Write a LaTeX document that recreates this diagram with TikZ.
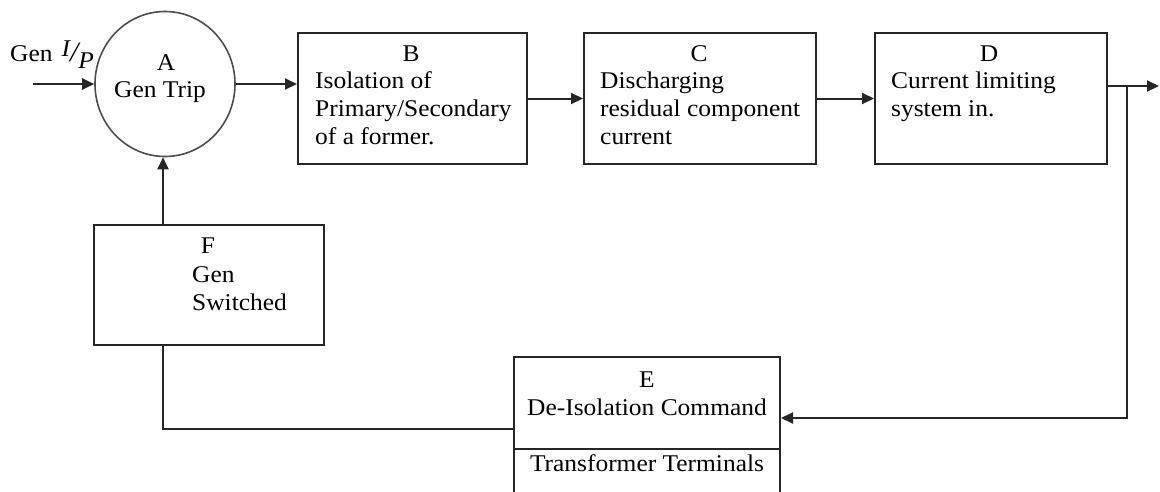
\documentclass[tikz,border=0pt]{standalone}
\usepackage{fontspec}
\setmainfont{Liberation Serif}[FakeStretch=1.06]
\usetikzlibrary{arrows.meta, calc, positioning, shapes.geometric}
\tikzset{
>={Triangle[length=12pt,width=11pt]}, % filled arrow heads
blk/.style={draw=black!85, line width=2pt, inner sep=0pt}, % outline of a block
lbl/.style={inner sep=0pt, align=left}, % text set inside the blocks
wire/.style={draw=black!85, line width=2pt}, % connecting lines
}

\begin{document}
\begin{tikzpicture}[x=1pt, y=-1pt, font=\fontsize{24}{28}\selectfont]%one unit per pixel
  \useasboundingbox (0,0) rectangle (1160,491);
  \clip (0,0) rectangle (1160,491);

  \begin{scope}
    \clip (0,10) rectangle (1160,491); % top of the circle is cut off
    \node[blk, ellipse, minimum width=140pt, minimum height=145pt, draw=black!70, line width=1.6pt] (A) at (165,84) {};
  \end{scope}
  \node[blk, anchor=north west, minimum width=229pt, minimum height=131pt] (B) at (297,32) {};
  \node[blk, anchor=north west, minimum width=232pt, minimum height=131pt] (C) at (583,32) {};
  \node[blk, anchor=north west, minimum width=232pt, minimum height=131pt] (D) at (874,32) {};
  \node[blk, anchor=north west, minimum width=230pt, minimum height=120pt] (F) at (93,224) {};
  \node[blk, anchor=north west, minimum width=266pt, minimum height=92pt] (E) at (513,356) {};
  \node[blk, anchor=north west, minimum width=266pt, minimum height=70pt] (Et) at (513,448) {};

  % letters and texts of the blocks
  \node[lbl, anchor=base] (Ah) at (166,70) {A};
  \node[lbl, anchor=base] (At) at (160,97) {Gen Trip};
  \node[lbl, anchor=base] (Bh) at (411,61) {B};
  \node[lbl, anchor=north west] (Bt) at (315,71) {Isolation of\\Primary/Secondary\\of a former.};
  \node[lbl, anchor=base] (Ch) at (699,61) {C};
  \node[lbl, anchor=north west] (Ct) at (600,72) {Discharging\\residual component\\current};
  \node[lbl, anchor=base] (Dh) at (989,61) {D};
  \node[lbl, anchor=north west] (Dt) at (891,72) {Current limiting\\system in.};
  \node[lbl, anchor=base] (Fh) at (208,253) {F};
  \node[lbl, anchor=north west] (Ft) at (192,266) {Gen\\Switched};
  \node[lbl, anchor=base] (Eh) at (647,387) {E};
  \node[lbl, anchor=base] (Et1) at (647,415) {De-Isolation Command};
  \node[lbl, anchor=base] (Et2) at (647,471) {Transformer Terminals};
  \node[lbl, anchor=base west] (gin) at (10,61)
    {Gen\hspace{9pt}\raisebox{5pt}{\itshape I}{\itshape\fontsize{28}{28}\selectfont/}\raisebox{-7pt}{\itshape P}};

  % connections
  \coordinate (in) at (33,84);
  \coordinate (out) at (1159,86);
  \coordinate (split) at (1127,86);
  \coordinate (ret) at (1127,418);
  \coordinate (back) at (163,429);

  \draw[wire,->] (in) -- (in -| A.west);
  \draw[wire,->] (A.east) -- (A.east -| B.west);
  \draw[wire,->] (B.east) -- (C.west);
  \draw[wire,->] (C.east) -- (D.west);
  \draw[wire,->] (D.east |- out) -- (out);
  \draw[wire,->] (split) -- (ret) -- (ret -| E.east);
  \draw[wire] (back -| E.west) -- (back) -- (back |- F.south);
  \draw[wire,->] (back |- F.north) -- (back |- A.south);
\end{tikzpicture}
\end{document}
